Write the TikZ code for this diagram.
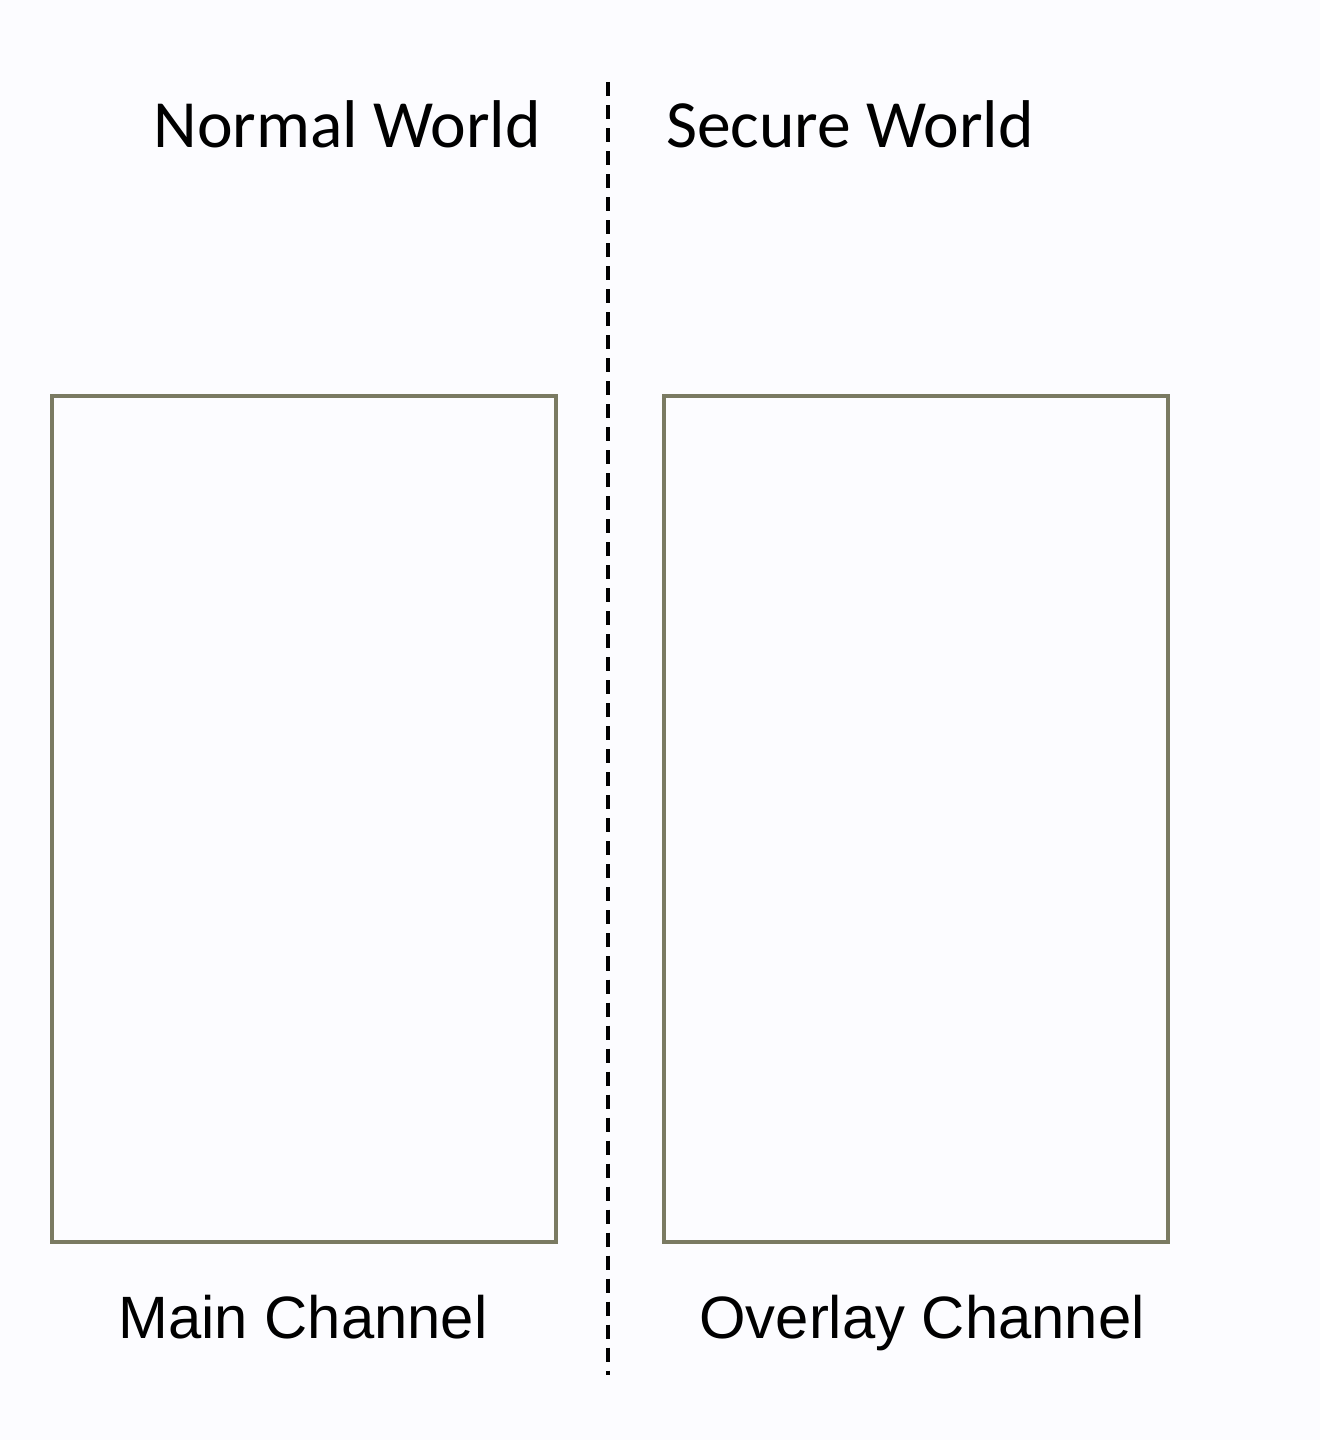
\documentclass[tikz,border=0pt]{standalone}
\usepackage{fontspec}
\setmainfont{Carlito}
\newfontfamily\arialfont{Liberation Sans}
\definecolor{bgcol}{RGB}{252,252,255}
\definecolor{framecol}{RGB}{122,122,98}
\begin{document}
\begin{tikzpicture}[x=0.01cm,y=-0.01cm,
	world/.style={anchor=base,font=\fontsize{19.2}{23}\selectfont},
	chan/.style={anchor=base,font=\arialfont\fontsize{17}{20}\selectfont},
	channelbox/.style={draw=framecol,line width=1.1pt,minimum width=5.04cm,minimum height=8.46cm,inner sep=0pt}]
	\fill[bgcol] (0,0) rectangle (1320,1440);
	\useasboundingbox (0,0) rectangle (1320,1440);
	% divider between the two worlds
	\coordinate (top) at (608,82);
	\coordinate (bottom) at (608,1375);
	\draw[line width=1.1pt,dash pattern=on 0.14cm off 0.09cm] (top) -- (bottom);
	\node[world] (normal) at (347,148) {Normal World};
	\node[world] (secure) at (850,148) {Secure World};
	\node[channelbox] (mainbox) at (304,819) {};
	\node[channelbox] (overlaybox) at (916,819) {};
	\node[chan] (main) at (303,1338) {Main Channel};
	\node[chan] (overlay) at (922,1338) {Overlay Channel};
\end{tikzpicture}
\end{document}
